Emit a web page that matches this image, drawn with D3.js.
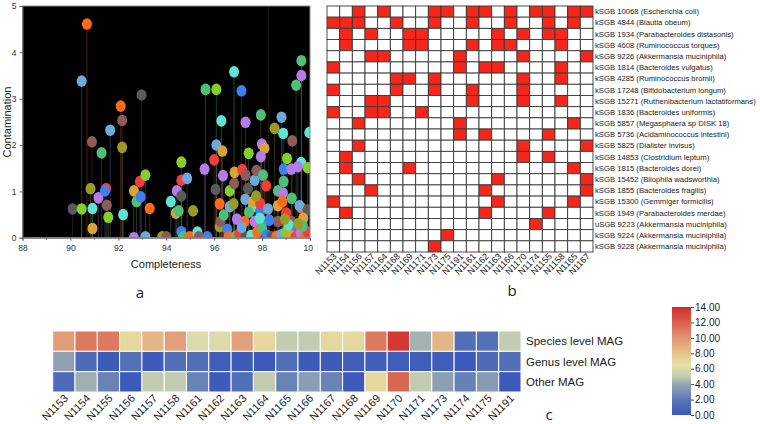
<!DOCTYPE html>
<html><head><meta charset="utf-8">
<script src="https://cdn.jsdelivr.net/npm/d3@7"></script>
<style>body{margin:0;background:#fff} svg{display:block}</style>
</head><body><svg id="chart" width="760" height="424"></svg>
<script>
// ---------- Panel a: completeness vs contamination ----------
const completeness = [90.09,90.47,90.47,90.69,90.90,90.84,90.92,90.92,91.17,91.30,91.49,91.44,91.52,91.58,91.66,92.10,92.16,92.16,92.20,92.97,92.65,92.65,92.76,92.93,92.90,93.13,93.31,93.13,93.83,94.00,94.19,94.40,94.52,94.44,94.63,94.63,94.63,94.87,94.63,94.70,95.12,94.98,95.30,95.36,95.72,95.60,95.64,96.09,96.00,96.09,96.06,96.23,96.23,96.26,96.30,96.34,96.37,96.40,96.55,96.65,96.65,96.81,96.83,96.83,96.85,97.17,97.14,97.31,97.31,97.44,97.41,97.30,97.27,97.69,97.76,97.62,97.62,97.69,97.95,97.99,98.10,97.95,98.04,98.17,97.92,98.04,97.92,98.52,98.81,98.88,98.66,98.66,98.66,98.90,98.90,98.87,98.85,99.04,99.26,99.22,99.42,99.64,99.64,99.63,99.24,99.35,99.90,99.97,99.63,99.56,99.90,99.72,99.22,99.01,99.49,
96.60,96.90,97.05,97.30,97.55,97.80,98.00,98.20,98.40,98.60,98.80,99.00,99.20,99.40,99.60,99.80,99.92,99.70,99.50,98.30,97.90,97.45,97.75,98.25,99.10,98.95,96.95,97.15,98.28];
const contamination = [0.62,0.62,3.38,4.61,2.07,1.06,0.63,0.20,0.86,1.83,1.06,1.01,0.70,0.44,2.32,2.84,2.53,1.95,0.50,3.08,1.01,0.00,0.78,0.88,1.21,1.35,0.63,0.02,0.02,0.02,0.78,0.53,0.58,1.01,0.90,1.24,1.63,1.28,0.13,0.02,0.58,0.02,0.12,0.02,0.02,1.48,3.20,3.20,1.68,2.00,1.04,0.73,0.24,0.35,2.52,1.87,1.34,0.49,0.18,1.01,0.67,0.73,3.58,1.17,1.41,1.47,3.17,2.49,1.35,1.82,1.06,0.83,0.35,1.24,1.45,0.67,0.78,0.35,2.65,2.02,1.93,1.75,1.35,1.12,0.58,0.35,0.74,2.36,2.60,2.25,1.01,0.35,0.69,1.21,1.48,0.96,0.78,1.71,2.09,1.48,3.29,3.82,3.50,1.62,0.85,0.20,1.51,2.27,0.65,0.69,0.60,0.42,0.35,0.53,1.53,
0.02,0.03,0.08,0.02,0.05,0.12,0.20,0.05,0.02,0.03,0.06,0.12,0.05,0.02,0.10,0.05,0.12,0.25,0.30,0.38,0.42,0.55,0.90,0.62,0.28,0.40,0.40,0.22,5.60];
const mags = [4,11,1,0,2,5,9,10,6,3,8,7,2,11,1,0,2,5,9,4,10,6,3,7,8,11,0,1,5,2,9,10,3,6,4,8,11,1,7,3,5,0,9,2,7,6,3,11,8,1,4,0,5,2,9,10,6,3,7,11,1,5,9,2,10,8,7,6,2,11,4,1,0,1,2,9,10,6,3,6,10,6,3,8,7,3,8,5,1,9,3,2,10,3,7,6,0,11,2,6,3,3,6,9,3,7,11,9,0,1,4,10,2,8,6,
0,3,8,4,9,0,3,7,4,0,1,11,10,8,6,0,8,3,5,7,9,3,5,1,9,5,6,1,4];
const axisXTicks = [88,90,92,94,96,98,100];
const axisYTicks = [0,1,2,3,4,5];

// ---------- Panel b: presence matrix ----------
const matrixCols = ["N1153","N1154","N1156","N1157","N1164","N1168","N1169","N1171","N1173","N1175","N1191","N1161","N1162","N1163","N1166","N1170","N1174","N1155","N1158","N1165","N1167"];
const matrixRows = ["kSGB 10068 (Escherichia coli)","kSGB 4844 (Blautia obeum)","kSGB 1934 (Parabacteroides distasonis)","kSGB 4608 (Ruminococcus torques)","kSGB 9226 (Akkermansia muciniphila)","kSGB 1814 (Bacteroides vulgatus)","kSGB 4285 (Ruminococcus bromii)","kSGB 17248 (Bifidobacterium longum)","kSGB 15271 (Ruthenibacterium lactatiformans)","kSGB 1836 (Bacteroides uniformis)","kSGB 5857 (Megasphaera sp DISK 18)","kSGB 5736 (Acidaminococcus intestini)","kSGB 5825 (Dialister invisus)","kSGB 14853 (Clostridium leptum)","kSGB 1815 (Bacteroides dorei)","kSGB 15452 (Bilophila wadsworthia)","kSGB 1855 (Bacteroides fragilis)","kSGB 15300 (Gemmiger formicilis)","kSGB 1949 (Parabacteroides merdae)","uSGB 9223 (Akkermansia muciniphila)","kSGB 9224 (Akkermansia muciniphila)","kSGB 9228 (Akkermansia muciniphila)"];
const presentIn = [
 [2,4,8,9,11,12,14,16,17,19,20],
 [0,1,2,5,8,11,14,17,19],
 [1,3,6,7,13,15,17,18],
 [1,6,7,11,13,14,18],
 [3,4,10,15,20],
 [0,10,12,13,18],
 [5,6,8,15,18],
 [0,5,8,11,15],
 [3,4,11,15,18],
 [0,3,4,7],
 [2,10,19],
 [10,12,17],
 [2,15,20],
 [1,15,17],
 [1,6,19],
 [2,13,20],
 [3,12,20],
 [0,13,19],
 [1,12,17],
 [16],
 [9],
 [8]
];

// ---------- Panel c: MAG counts heatmap ----------
const heatCols = ["N1153","N1154","N1155","N1156","N1157","N1158","N1161","N1162","N1163","N1164","N1165","N1166","N1167","N1168","N1169","N1170","N1171","N1173","N1174","N1175","N1191"];
const heatRows = ["Species level MAG","Genus level MAG","Other MAG"];
const speciesMAG = [9.6,11.0,11.0,7.0,8.6,9.5,6.0,6.0,9.5,7.0,5.0,5.0,7.0,7.0,11.0,13.5,4.3,8.6,1.5,1.6,5.0];
const genusMAG   = [3.8,1.3,0.3,1.6,0.3,1.5,1.5,0.4,0.3,0.2,1.5,0.3,0.3,0.4,0.5,0.4,0.4,0.4,0.2,1.3,1.5];
const otherMAG   = [1.3,4.2,2.5,0.2,5.0,5.0,2.5,0.3,1.5,5.0,2.5,3.6,2.5,0.3,7.0,11.8,5.0,3.7,2.4,3.5,0.2];
const colorbarTicks = [0,2,4,6,8,10,12,14];

// ================= drawing =================
const svg = d3.select("#chart");
const narrow = "'Liberation Sans Narrow','Arial Narrow','Liberation Sans',Arial,sans-serif";
const sans = "'Liberation Sans',Arial,sans-serif";

// ----- a -----
const palette = ["#ff6b1a","#6fa8dc","#8e5b5b","#4cbf78","#5a5a5a","#9a9a26","#b57be8","#3f7ff2","#f23d3d","#5fe3d6","#d9a33a","#86cf2a"];
const xA = d3.scaleLinear().domain([88,100]).range([22.5,310]);
const yA = d3.scaleLinear().domain([0,5]).range([237.7,6]);
const gA = svg.append("g");
const defs = svg.append("defs");
defs.append("clipPath").attr("id","clipA").append("rect")
  .attr("x",xA(88)).attr("y",yA(5)).attr("width",xA(100)-xA(88)).attr("height",yA(0)-yA(5));
defs.append("clipPath").attr("id","clipAxis").append("rect")
  .attr("x",0).attr("y",0).attr("width",313).attr("height",424);
gA.append("rect").attr("x",xA(88)).attr("y",yA(5)).attr("width",xA(100)-xA(88)).attr("height",yA(0)-yA(5)).attr("fill","#000");
const pts = completeness.map((c,i)=>({c, v:contamination[i], g:mags[i]}));
const plot = gA.append("g").attr("clip-path","url(#clipA)");
plot.selectAll("line.stem").data(pts).join("line").attr("class","stem")
  .attr("x1",d=>xA(d.c)).attr("x2",d=>xA(d.c)).attr("y1",yA(0)).attr("y2",d=>yA(d.v))
  .attr("stroke",d=>palette[d.g]).attr("stroke-opacity",0.3).attr("stroke-width",1);
plot.selectAll("ellipse").data(pts).join("ellipse")
  .attr("cx",d=>xA(d.c)).attr("cy",d=>yA(d.v)).attr("rx",5).attr("ry",5.8)
  .attr("fill",d=>palette[d.g]);
gA.append("rect").attr("x",xA(88)).attr("y",yA(5)).attr("width",xA(100)-xA(88)).attr("height",yA(0)-yA(5))
  .attr("fill","none").attr("stroke","#8a8a8a").attr("stroke-width",1);
const axY = gA.append("g").attr("transform",`translate(${xA(88)},0)`)
  .call(d3.axisLeft(yA).tickValues(axisYTicks).tickSize(3).tickFormat(d3.format("d")));
const axX = gA.append("g").attr("transform",`translate(0,${yA(0)})`).attr("clip-path","url(#clipAxis)")
  .call(d3.axisBottom(xA).tickValues(axisXTicks).tickSize(3).tickFormat(d3.format("d")));
axX.selectAll(".minor").data(d3.range(89,100,2)).join("line").attr("class","minor")
  .attr("x1",d=>xA(d)).attr("x2",d=>xA(d)).attr("y1",0).attr("y2",2).attr("stroke","#666");
[axX,axY].forEach(a=>{
  a.select(".domain").attr("stroke","#666");
  a.selectAll(".tick line").attr("stroke","#666");
  a.selectAll(".tick text").attr("font-family",narrow).attr("font-size",8.5).attr("fill","#333");
});
axX.selectAll(".tick text").attr("dy","0.9em");
gA.append("text").attr("x",166).attr("y",268).attr("text-anchor","middle")
  .attr("font-family",narrow).attr("font-size",11).attr("fill","#222").text("Completeness");
gA.append("text").attr("transform","translate(11,122) rotate(-90)").attr("text-anchor","middle")
  .attr("font-family",narrow).attr("font-size",11).attr("fill","#222").text("Contamination");
gA.append("text").attr("x",140).attr("y",298).attr("text-anchor","middle")
  .attr("font-family","'Open Sans',sans-serif").attr("font-size",15).attr("fill","#222").text("a");

// ----- b -----
const xB = d3.scaleBand().domain(matrixCols).range([327,593]);
const yB = d3.scaleBand().domain(matrixRows).range([6,252]);
const gB = svg.append("g");
const cells = [];
matrixRows.forEach((r,ri)=>matrixCols.forEach((c,ci)=>cells.push({r,c,on:presentIn[ri].includes(ci)})));
gB.selectAll("rect").data(cells).join("rect")
  .attr("x",d=>xB(d.c)).attr("y",d=>yB(d.r)).attr("width",xB.bandwidth()).attr("height",yB.bandwidth())
  .attr("fill",d=>d.on?"#f5261a":"#fff").attr("stroke","#3a3a3a").attr("stroke-width",0.9);
const rowLabels = gB.selectAll("text.row").data(matrixRows).join("text").attr("class","row")
  .attr("x",595).attr("y",d=>yB(d)+yB.bandwidth()/2).attr("dy","0.35em")
  .attr("font-family",narrow).attr("font-size",8.6).attr("fill","#222").text(d=>d);
// fit the longest label into the space left of the page edge
let maxW = 0;
rowLabels.each(function(){ maxW = Math.max(maxW, this.getComputedTextLength()); });
if (maxW > 161) rowLabels.attr("font-size", 8.6*161/maxW);
gB.selectAll("text.col").data(matrixCols).join("text").attr("class","col")
  .attr("transform",d=>`translate(${xB(d)+xB.bandwidth()/2+4},${257}) rotate(-45)`)
  .attr("text-anchor","end").attr("font-family",narrow).attr("font-size",9).attr("fill","#222").text(d=>d);
gB.append("text").attr("x",512).attr("y",296).attr("text-anchor","middle")
  .attr("font-family","'Open Sans',sans-serif").attr("font-size",15).attr("fill","#222").text("b");

// ----- c -----
const heatColor = d3.scaleLinear()
  .domain([0,2,4,5,6.5,8,10,12,14])
  .range(["#3a56bb","#5b77b6","#95a6b2","#c3ccb0","#e6e2a6","#e6c38c","#df9472","#d9604c","#d42a2a"]);
const xC = d3.scaleBand().domain(heatCols).range([52.7,521]);
const yC = d3.scaleBand().domain(heatRows).range([331,392]);
const heatValues = [speciesMAG, genusMAG, otherMAG];
const hcells = [];
heatRows.forEach((r,ri)=>heatCols.forEach((c,ci)=>hcells.push({r,c,v:heatValues[ri][ci]})));
const gC = svg.append("g");
gC.selectAll("rect").data(hcells).join("rect")
  .attr("x",d=>xC(d.c)).attr("y",d=>yC(d.r)).attr("width",xC.bandwidth()).attr("height",yC.bandwidth())
  .attr("fill",d=>heatColor(d.v)).attr("stroke","#fff").attr("stroke-width",1);
gC.selectAll("text.row").data(heatRows).join("text").attr("class","row")
  .attr("x",526).attr("y",d=>yC(d)+yC.bandwidth()/2).attr("dy","0.35em")
  .attr("font-family",sans).attr("font-size",11.5).attr("fill","#222").text(d=>d);
gC.selectAll("text.col").data(heatCols).join("text").attr("class","col")
  .attr("transform",d=>`translate(${xC(d)+xC.bandwidth()/2+5},${399}) rotate(-45)`)
  .attr("text-anchor","end").attr("font-family",sans).attr("font-size",11).attr("fill","#222").text(d=>d);
gC.append("text").attr("x",549).attr("y",420).attr("text-anchor","middle")
  .attr("font-family","'Open Sans',sans-serif").attr("font-size",15).attr("fill","#222").text("c");

// colorbar
const yBar = d3.scaleLinear().domain([0,14]).range([415,307]);
const grad = defs.append("linearGradient").attr("id","grad").attr("x1",0).attr("y1",1).attr("x2",0).attr("y2",0);
d3.range(0,14.01,0.5).forEach(v=>grad.append("stop").attr("offset",v/14).attr("stop-color",heatColor(v)));
svg.append("rect").attr("x",672).attr("y",yBar(14)).attr("width",19).attr("height",yBar(0)-yBar(14)).attr("fill","url(#grad)");
const axBar = svg.append("g").attr("transform","translate(691,0)")
  .call(d3.axisRight(yBar).tickValues(colorbarTicks).tickSize(3).tickPadding(1).tickFormat(d3.format(".2f")));
axBar.select(".domain").remove();
axBar.selectAll(".tick line").attr("stroke","#444");
axBar.selectAll(".tick text").attr("font-family",sans).attr("font-size",10).attr("fill","#222");
</script></body></html>
